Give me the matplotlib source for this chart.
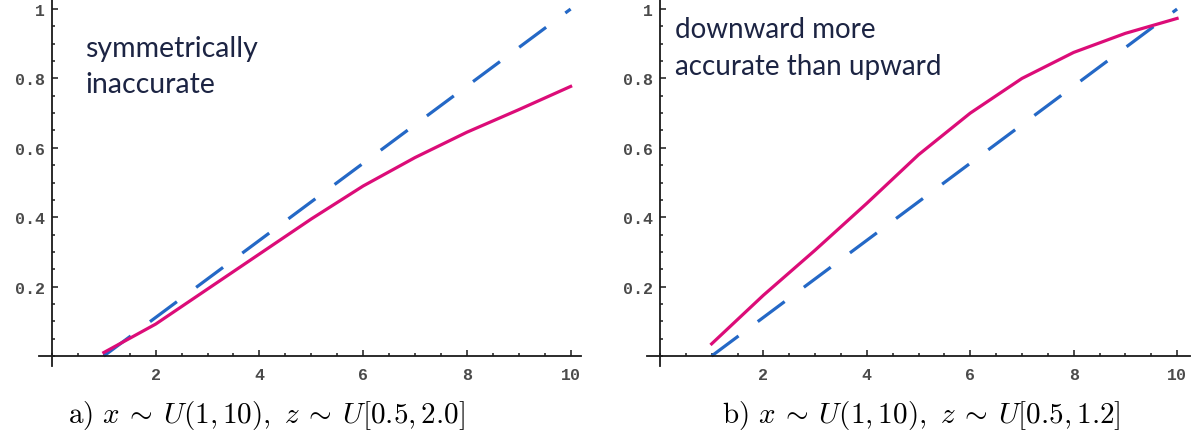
import numpy as np
import matplotlib
matplotlib.use('Agg')
import matplotlib.pyplot as plt
from matplotlib.ticker import FixedLocator, MultipleLocator

plt.rcParams['mathtext.fontset'] = 'cm'

# panel a) simulated curve vs. diagonal
xa = [1, 2, 3, 4, 5, 6, 7, 8, 9, 10]
ya = [0.01, 0.092, 0.193, 0.294, 0.395, 0.49, 0.572, 0.645, 0.71, 0.777]
# panel b)
xb = [1, 2, 3, 4, 5, 6, 7, 8, 9, 10]
yb = [0.035, 0.175, 0.305, 0.44, 0.58, 0.70, 0.80, 0.875, 0.93, 0.973]
# dashed reference line
xref = [1, 10]
yref = [0, 1]

xticks = [2, 4, 6, 8, 10]
yticks = [0.2, 0.4, 0.6, 0.8, 1.0]
ytick_labels = ['0.2', '0.4', '0.6', '0.8', '1']

notes = ['symmetrically\ninaccurate', 'downward more\naccurate than upward']
captions = [r'$\mathrm{a)}\ x \:\sim\: U(1,10),\ z \:\sim\: U[0.5,2.0]$',
            r'$\mathrm{b)}\ x \:\sim\: U(1,10),\ z \:\sim\: U[0.5,1.2]$']

magenta = '#dc0c78'
blue = '#2468c6'

fig = plt.figure(figsize=(11.91, 4.35), dpi=100)
W, H = 1191, 435
ax1 = fig.add_axes([39/W, 67.6/H, 542/W, 367.4/H])
ax2 = fig.add_axes([647/W, 67.6/H, 543/W, 367.4/H])

tickfont = dict(family='Liberation Mono', size=12, weight='bold', color='#4a4a4a')

for ax, xs, ys, note, npos, fs in [(ax1, xa, ya, notes[0], (85, 36), 20.5),
                                    (ax2, xb, yb, notes[1], (675, 17), 20)]:
    ax.plot(xref, yref, color=blue, lw=2.3, dashes=(10.5, 7.5), solid_capstyle='butt')
    ax.plot(xs, ys, color=magenta, lw=2.3)
    ax.set_ylim(-0.03, 1.029)
    for s in ['top', 'right']:
        ax.spines[s].set_visible(False)
    for s in ['left', 'bottom']:
        ax.spines[s].set_position(('data', 0))
        ax.spines[s].set_linewidth(1.3)
        ax.spines[s].set_color('#1a1a1a')
    ax.xaxis.set_major_locator(FixedLocator(xticks))
    ax.xaxis.set_minor_locator(MultipleLocator(0.5))
    ax.yaxis.set_major_locator(FixedLocator(yticks))
    ax.yaxis.set_minor_locator(MultipleLocator(0.05))
    ax.set_yticklabels(ytick_labels)
    ax.tick_params(which='both', direction='in', color='#1a1a1a', width=1.1)
    ax.tick_params(which='major', length=4.5)
    ax.tick_params(which='minor', length=2.5)
    ax.tick_params(axis='x', which='major', pad=8)
    ax.tick_params(axis='y', which='major', pad=5)
    for lab in ax.get_xticklabels() + ax.get_yticklabels():
        lab.set_fontfamily(tickfont['family'])
        lab.set_fontsize(tickfont['size'])
        lab.set_fontweight(tickfont['weight'])
        lab.set_color(tickfont['color'])
    fig.text(npos[0]/W, 1 - npos[1]/H, note, family='Lato', fontsize=fs,
             color='#1c2443', va='top', ha='left', linespacing=1.5)

ax1.set_xlim(-0.25, 10.2)
ax2.set_xlim(-0.25, 10.25)

fig.text(266/W, 1 - 416/H, captions[0], fontsize=21, ha='center', va='center')
fig.text(921/W, 1 - 416/H, captions[1], fontsize=21, ha='center', va='center')

fig.savefig('out.png', dpi=100)
